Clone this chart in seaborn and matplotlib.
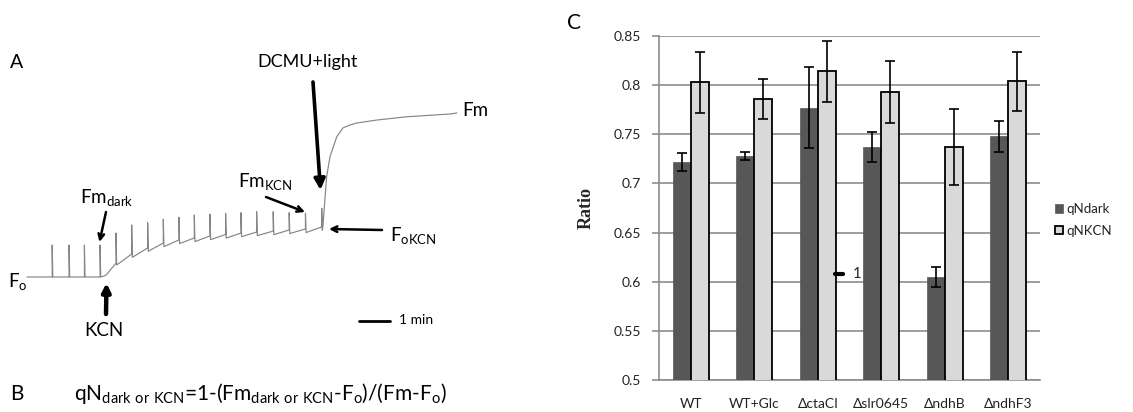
import numpy as np
import pandas as pd
import matplotlib
matplotlib.use('Agg')
import matplotlib.pyplot as plt
import seaborn as sns
from matplotlib.patches import Patch
from matplotlib.lines import Line2D

# ---------------- Panel C data ----------------
strains = ['WT', 'WT+Glc', 'ΔctaCI', 'Δslr0645', 'ΔndhB', 'ΔndhF3']
series_names = ['qNdark', 'qNKCN']
qn_dark = [0.722, 0.728, 0.777, 0.737, 0.605, 0.748]
qn_dark_err = [0.009, 0.004, 0.041, 0.015, 0.010, 0.016]
qn_kcn = [0.803, 0.786, 0.814, 0.793, 0.737, 0.804]
qn_kcn_err = [0.031, 0.020, 0.031, 0.032, 0.039, 0.030]
y_ticks = [0.5, 0.55, 0.6, 0.65, 0.7, 0.75, 0.8, 0.85]

# ---------------- Panel A data (time in min, F normalised: Fo=0, Fm=1) ----------------
flash_t = [0.82, 1.37, 1.87, 2.38, 2.90, 3.41, 3.93, 4.44, 4.95, 5.45, 5.96, 6.47,
           6.97, 7.48, 8.02, 8.54, 9.07, 9.60]
flash_base = [0.0, 0.0, 0.0, 0.0, 0.085, 0.140, 0.177, 0.207, 0.226, 0.238, 0.250,
              0.259, 0.268, 0.274, 0.280, 0.287, 0.293, 0.305]
flash_top = [0.195, 0.195, 0.195, 0.195, 0.268, 0.317, 0.331, 0.352, 0.364, 0.378,
             0.384, 0.388, 0.392, 0.398, 0.398, 0.392, 0.388, 0.419]
flash_dip = [0.0, 0.0, 0.0, 0.0, 0.012, 0.02, 0.02, 0.022, 0.022, 0.022, 0.022,
             0.022, 0.022, 0.022, 0.022, 0.022, 0.022, 0.02]
start_t, start_F = 0.0, 0.0
kcn_t, kcn_F = 2.57, 0.01
dcmu_t = [9.64, 9.76, 9.87, 10.09, 10.29, 10.52, 10.74, 11.39, 12.37, 13.78, 14.0]
dcmu_F = [0.311, 0.612, 0.734, 0.855, 0.909, 0.927, 0.939, 0.957, 0.977, 0.994, 1.0]

# ---------------- style ----------------
sns.set_style('white')
plt.rcParams['font.family'] = ['Lato', 'DejaVu Sans']
plt.rcParams['mathtext.default'] = 'regular'

W, H = 1133, 412
fig = plt.figure(figsize=(W / 100, H / 100), dpi=100)


def fp(x, y):
    return (x / W, 1 - y / H)


# ---------------- Panel A ----------------
px_per_min = 30.7
x0_px, fo_px, fm_px = 27, 277, 113
axA = fig.add_axes([0, 0, 560 / W, 1])
axA.set_xlim(-x0_px / px_per_min, (560 - x0_px) / px_per_min)
axA.set_ylim((fo_px - H) / (fo_px - fm_px), fo_px / (fo_px - fm_px))
axA.axis('off')

tt = [start_t]
ff = [start_F]
kcn_done = False
for t, b, top, d in zip(flash_t, flash_base, flash_top, flash_dip):
    if not kcn_done and t > kcn_t:
        tt.append(kcn_t)
        ff.append(kcn_F)
        kcn_done = True
    tt += [t, t, t + 0.02]
    ff += [b, top, b - d]
tt += dcmu_t
ff += dcmu_F
sns.lineplot(x=tt, y=ff, ax=axA, color='#858585', lw=0.85, sort=False, estimator=None)

LS = 13.5
txt = dict(color='black', ha='center', va='center')
fig.text(*fp(17, 62), 'A', fontsize=14, **txt)
fig.text(*fp(308, 62), 'DCMU+light', fontsize=13, **txt)
fig.text(*fp(475, 111), 'Fm', fontsize=LS, **txt)
fig.text(*fp(107, 197), r'Fm$_{dark}$', fontsize=LS, **txt)
fig.text(*fp(265, 182), r'Fm$_{KCN}$', fontsize=LS, **txt)
fig.text(*fp(413, 236), r'F$_{oKCN}$', fontsize=LS, **txt)
fig.text(*fp(18, 282), r'F$_{o}$', fontsize=LS, **txt)
fig.text(*fp(104, 331), 'KCN', fontsize=LS, **txt)
fig.text(*fp(399, 320), '1 min', fontsize=10, color='black', ha='left', va='center')
fig.text(*fp(17, 394), 'B', fontsize=15, **txt)
fig.text(*fp(74, 394),
         r'qN$_{dark\ or\ KCN}$=1-(Fm$_{dark\ or\ KCN}$-F$_{o}$)/(Fm-F$_{o}$)',
         fontsize=15, color='black', ha='left', va='center')

# scale bar
fig.add_artist(Line2D([359 / W, 390 / W], [1 - 320.5 / H] * 2, color='black', lw=2))


def arrow(tail, tip, lw, style, ms):
    fig.add_artist(matplotlib.patches.FancyArrowPatch(
        fp(*tail), fp(*tip), transform=fig.transFigure, arrowstyle=style,
        lw=lw, color='black', mutation_scale=ms, shrinkA=0, shrinkB=0))


arrow((313, 82), (320.5, 190), 2.6, '-|>', 16)
arrow((106, 212), (99.5, 242), 1.8, '->', 10)
arrow((106, 314), (106.5, 283), 3.2, '-|>', 12)
arrow((266, 197), (305, 212), 1.8, '->', 10)
arrow((382, 230), (329, 229), 1.8, '->', 10)

# ---------------- Panel C ----------------
c_dark, c_light = '#575757', '#d9d9d9'
df = pd.DataFrame({
    'strain': strains * 2,
    'series': [series_names[0]] * len(strains) + [series_names[1]] * len(strains),
    'value': qn_dark + qn_kcn,
})
axC = fig.add_axes([659 / W, 1 - 380 / H, 381 / W, 344 / H])
sns.barplot(data=df, x='strain', y='value', hue='series', palette=[c_dark, c_light],
            width=0.57, errorbar=None, saturation=1, legend=False, ax=axC, zorder=3)
for bar in axC.containers[0]:
    bar.set_edgecolor(c_dark)
    bar.set_linewidth(0.5)
for bar in axC.containers[1]:
    bar.set_edgecolor('black')
    bar.set_linewidth(1.3)
for cont, vals, errs in zip(axC.containers, [qn_dark, qn_kcn], [qn_dark_err, qn_kcn_err]):
    xs = [b.get_x() + b.get_width() / 2 for b in cont]
    axC.errorbar(xs, vals, yerr=errs, fmt='none', ecolor='black', elinewidth=1.2,
                 capsize=3.5, capthick=1.2, zorder=4)

axC.set_ylim(0.5, 0.85)
axC.set_yticks(y_ticks)
axC.set_yticklabels([f'{v:g}' for v in y_ticks])
axC.set_xlim(-0.5, len(strains) - 0.5)
axC.set_xticks(np.arange(-0.5, len(strains), 1.0))
axC.set_xticklabels([''] * (len(strains) + 1))
axC.set_xticks(np.arange(len(strains)), minor=True)
axC.set_xticklabels(strains, minor=True)
axC.tick_params(axis='x', which='major', length=5, color='#8c8c8c', width=1.2, direction='out')
axC.tick_params(axis='x', which='minor', length=0, pad=13, labelsize=10, labelcolor='#222222')
axC.tick_params(axis='y', length=5, color='#8c8c8c', width=1.2, pad=8, labelsize=10,
                labelcolor='#222222', direction='out', left=True)
axC.yaxis.grid(True, color='#8c8c8c', lw=1.2, zorder=0)
axC.set_axisbelow(True)
for s in ['top', 'right']:
    axC.spines[s].set_visible(False)
for s in ['left', 'bottom']:
    axC.spines[s].set_color('#8c8c8c')
    axC.spines[s].set_linewidth(1.2)
axC.set_xlabel('')
axC.set_ylabel('Ratio', fontsize=13, fontweight='bold', family='Liberation Serif')
axC.yaxis.set_label_coords((595 - 659) / 381, 0.5)

fig.text(*fp(574, 23), 'C', fontsize=15, **txt)
# stray mark in the original panel
fig.add_artist(Line2D([835 / W, 843 / W], [1 - 273.5 / H] * 2, color='black', lw=3))
fig.text(*fp(857, 274), '1', fontsize=10.5, color='#222222', ha='center', va='center')

handles = [Patch(fc=c_dark, ec=c_dark, lw=0.5), Patch(fc=c_light, ec='black', lw=1.3)]
fig.legend(handles, series_names, loc='center left', bbox_to_anchor=(1055 / W, 1 - 220 / H),
           frameon=False, handlelength=0.6, handleheight=0.6, handletextpad=0.25,
           labelspacing=0.75, fontsize=9.5, labelcolor='#222222', borderaxespad=0,
           borderpad=0)

fig.savefig('out.png', dpi=100)
